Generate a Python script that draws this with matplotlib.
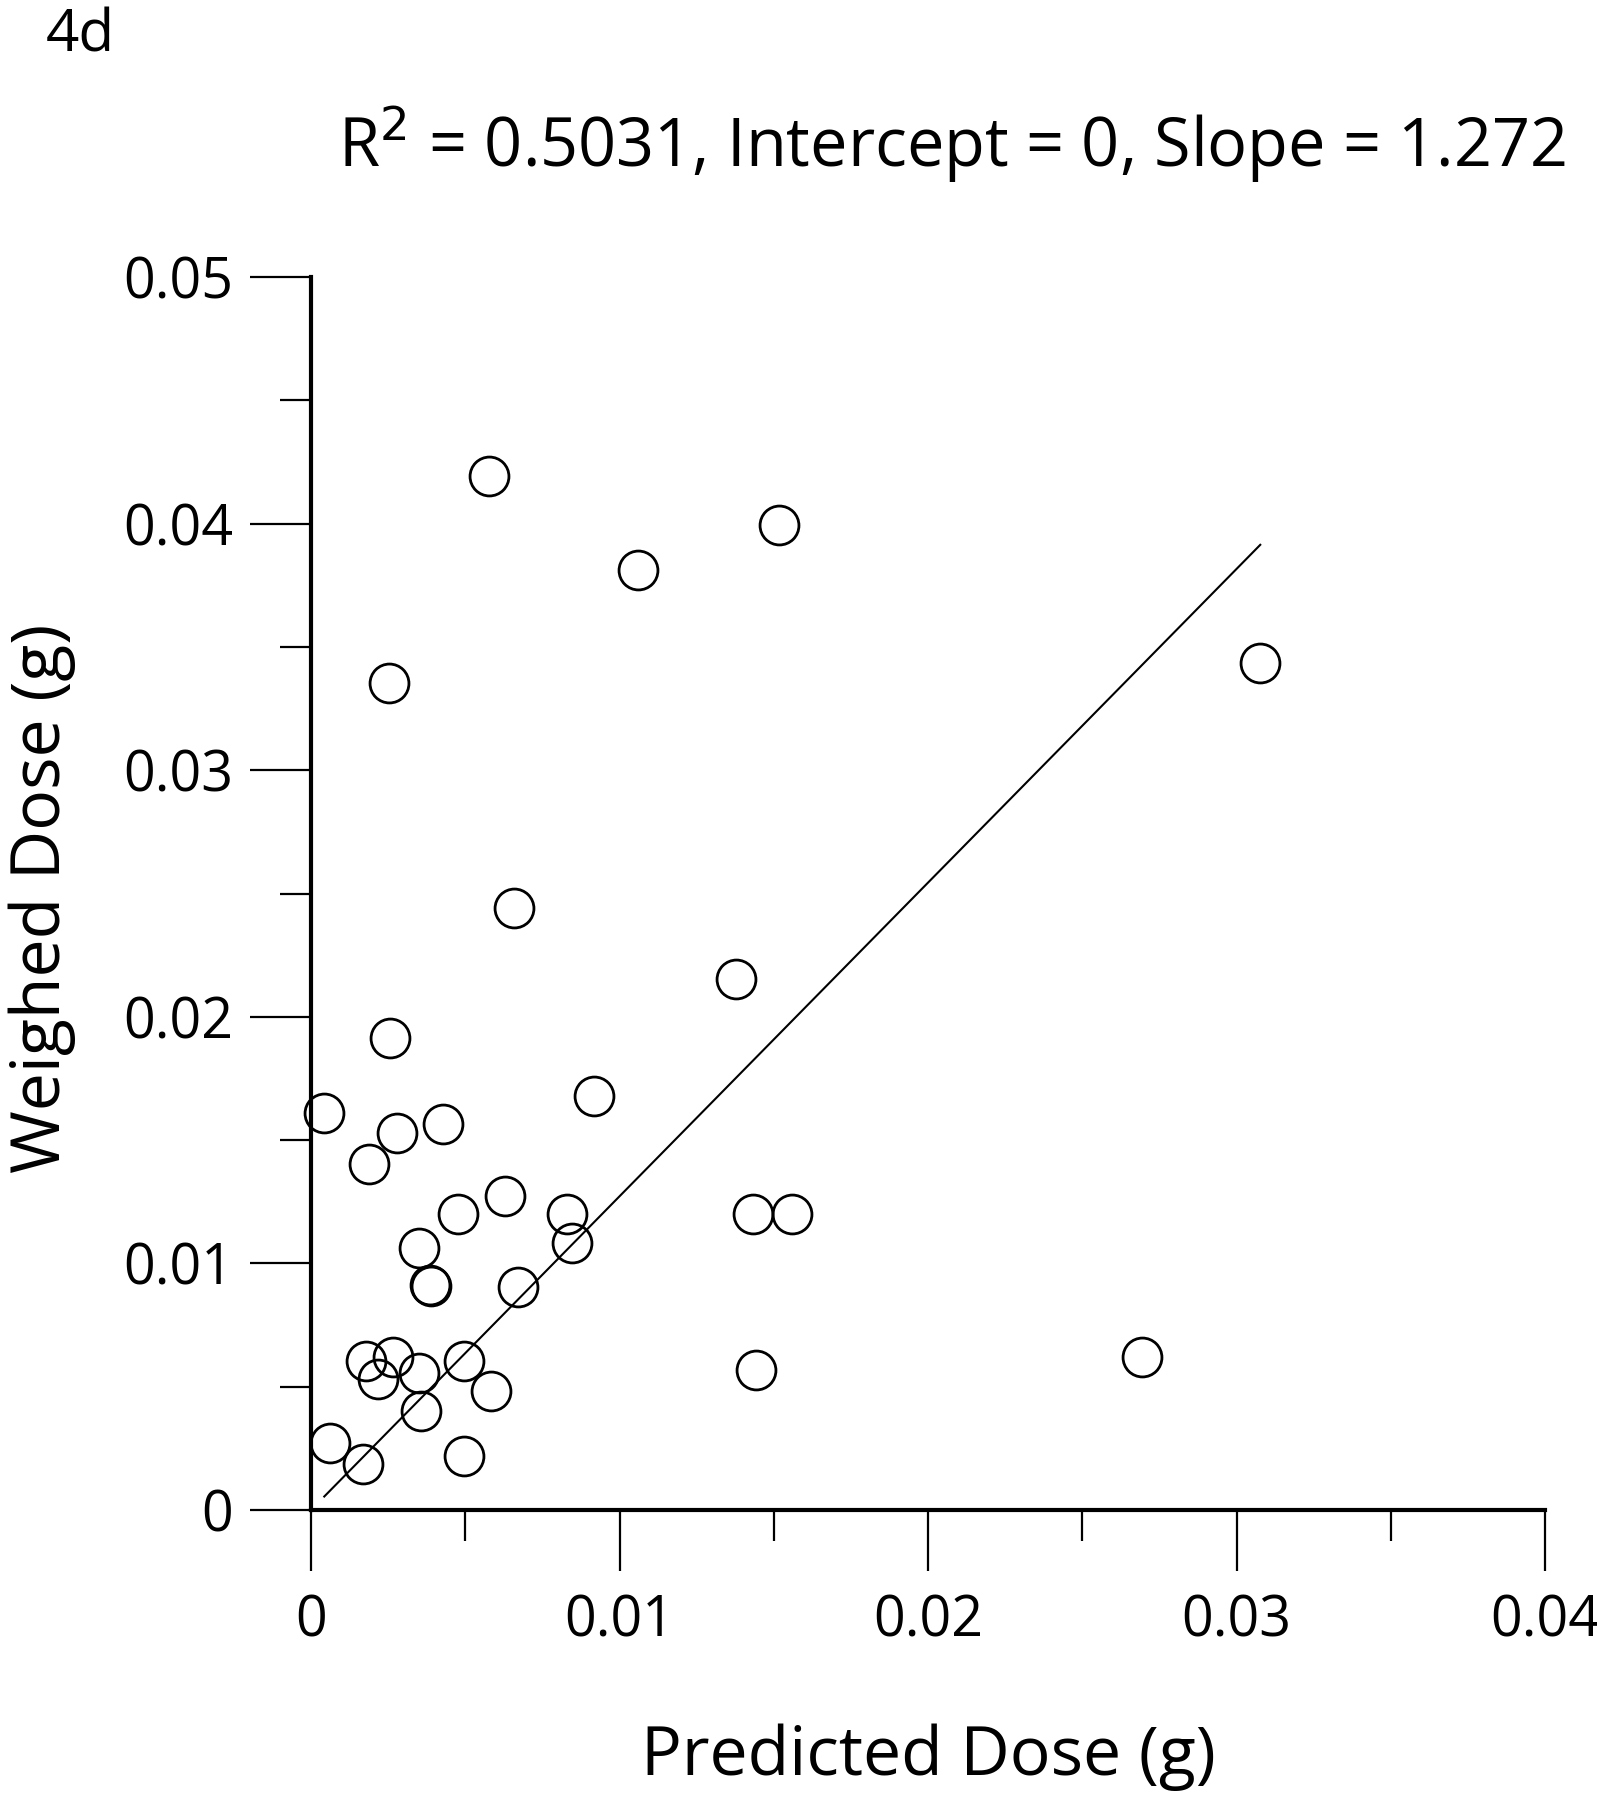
import matplotlib
matplotlib.use("Agg")
import matplotlib.pyplot as plt
import numpy as np
from matplotlib.ticker import MultipleLocator

plt.rcParams['font.family'] = ['Open Sans', 'DejaVu Sans']

# Data (g)
predicted = [0.00577, 0.01516, 0.01060, 0.00252, 0.03077, 0.00659, 0.01377, 0.00255,
             0.00917, 0.00043, 0.00279, 0.00427, 0.00189, 0.00630, 0.00478, 0.00829,
             0.01434, 0.01559, 0.00351, 0.00846, 0.00385, 0.00390, 0.00670, 0.00178,
             0.00265, 0.00216, 0.00351, 0.00497, 0.00584, 0.00357, 0.01443, 0.02695,
             0.00062, 0.00170, 0.00497]
weighed = [0.04192, 0.03993, 0.03813, 0.03354, 0.03435, 0.02441, 0.02153, 0.01914,
           0.01679, 0.01611, 0.01527, 0.01565, 0.01403, 0.01273, 0.01200, 0.01200,
           0.01200, 0.01200, 0.01061, 0.01081, 0.00914, 0.00908, 0.00903, 0.00605,
           0.00619, 0.00530, 0.00557, 0.00605, 0.00484, 0.00403, 0.00568, 0.00620,
           0.00270, 0.00185, 0.00219]
slope = 1.272
intercept = 0.0
title_text = "R$^2$ = 0.5031, Intercept = 0, Slope = 1.272"
xticks = [0, 0.01, 0.02, 0.03, 0.04]
xticklabels = ["0", "0.01", "0.02", "0.03", "0.04"]
yticks = [0, 0.01, 0.02, 0.03, 0.04, 0.05]
yticklabels = ["0", "0.01", "0.02", "0.03", "0.04", "0.05"]

W, H = 1597, 1800
fig = plt.figure(figsize=(W / 100, H / 100), dpi=100)
ax = fig.add_axes([311 / W, 1 - 1510 / H, (1545 - 311) / W, (1510 - 277) / H])

ax.plot(predicted, weighed, linestyle='none', marker='o', markersize=28,
        markerfacecolor='none', markeredgecolor='black', markeredgewidth=2.0,
        clip_on=False, zorder=3)

xl = np.array([min(predicted), max(predicted)])
ax.plot(xl, intercept + slope * xl, color='black', linewidth=1.5, zorder=2)

ax.set_xlim(0, 0.04)
ax.set_ylim(0, 0.05)
ax.set_xticks(xticks)
ax.set_xticklabels(xticklabels)
ax.set_yticks(yticks)
ax.set_yticklabels(yticklabels)
ax.xaxis.set_minor_locator(MultipleLocator(0.005))
ax.yaxis.set_minor_locator(MultipleLocator(0.005))

for s in ['top', 'right']:
    ax.spines[s].set_visible(False)
for s in ['left', 'bottom']:
    ax.spines[s].set_linewidth(3.0)

ax.tick_params(which='major', direction='out', length=44, width=1.6, labelsize=40, pad=12)
ax.tick_params(axis='x', which='major', pad=16)
ax.tick_params(which='minor', direction='out', length=22, width=1.6)

fig.text(46 / W, 1 - 51 / H, "4d", fontsize=42, ha='left', va='baseline')
fig.text(952 / W, 1 - 167 / H, title_text, fontsize=48, ha='center', va='baseline')
fig.text(928 / W, 1 - 1775 / H, "Predicted Dose (g)", fontsize=49, ha='center', va='baseline')
fig.text(60 / W, 1 - 898 / H, "Weighed Dose (g)", fontsize=49, ha='center', va='baseline',
         rotation=90, rotation_mode='anchor')

fig.savefig("out.png", dpi=100, facecolor='white')
